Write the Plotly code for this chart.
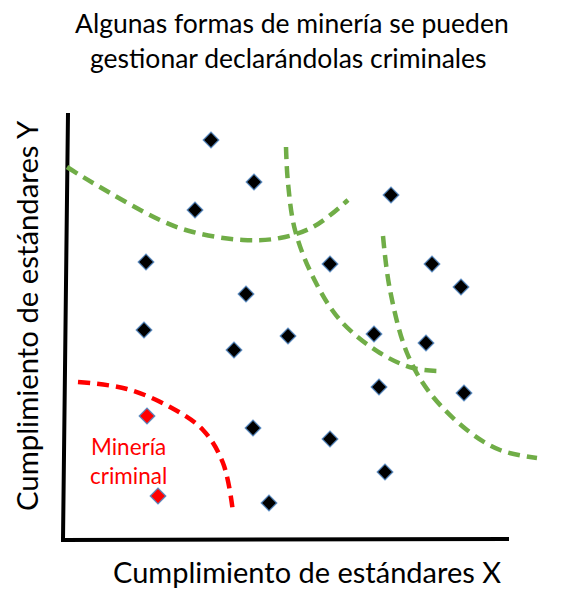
import plotly.graph_objects as go

# puntos (unidades arbitrarias de cumplimiento)
otros_x = [29.6, 38.2, 26.4, 65.6, 16.6, 53.4, 73.8, 79.6, 36.6, 16.2,
           45.0, 62.2, 72.6, 34.2, 63.2, 80.2, 38.0, 53.4, 64.4, 41.2]
otros_y = [79.8, 71.4, 65.8, 68.8, 55.4, 55.0, 55.0, 50.4, 49.0, 41.8,
           40.6, 41.0, 39.2, 37.8, 30.4, 29.2, 22.2, 20.0, 13.4, 7.2]
criminal_x = [16.8, 19.0]
criminal_y = [24.6, 8.6]

# fronteras dibujadas a mano
curva_a_x = [0.8, 6.0, 19.4, 26.0, 36.0, 43.4, 50.0, 57.0]
curva_a_y = [74.4, 71.2, 63.8, 61.4, 59.8, 60.2, 62.4, 67.8]
curva_b_x = [44.6, 45.0, 46.4, 50.0, 55.4, 63.4, 70.0, 75.2]
curva_b_y = [78.4, 71.2, 61.8, 52.4, 43.8, 37.2, 34.2, 33.6]
curva_c_x = [64.0, 65.4, 68.8, 73.4, 80.8, 87.4, 94.8]
curva_c_y = [60.6, 49.8, 37.2, 29.2, 21.8, 17.8, 16.2]
curva_roja_x = [3.0, 12.8, 21.4, 28.0, 32.0, 34.0]
curva_roja_y = [31.4, 30.0, 26.4, 21.8, 15.2, 5.4]

eje_x = [1.0, 0.0, 89.2]
eje_y = [85.2, -0.2, 0.0]

W, H, OFF = 556, 582, 8  # la página deja 8px de margen


def px(x, y):
    return (x - OFF) / W, 1 - (y - OFF) / H


verde = "#70AD47"
fig = go.Figure()

fig.add_trace(go.Scatter(x=eje_x, y=eje_y, mode="lines",
                         line=dict(color="black", width=4)))
for cx, cy in [(curva_a_x, curva_a_y), (curva_b_x, curva_b_y), (curva_c_x, curva_c_y)]:
    fig.add_trace(go.Scatter(x=cx, y=cy, mode="lines",
                             line=dict(color=verde, width=4.5, dash="12px,7px", shape="spline")))
fig.add_trace(go.Scatter(x=curva_roja_x, y=curva_roja_y, mode="lines",
                         line=dict(color="#FF0000", width=4.5, dash="12px,7px", shape="spline")))

fig.add_trace(go.Scatter(x=otros_x, y=otros_y, mode="markers",
                         marker=dict(symbol="diamond", size=12, color="black",
                                     line=dict(color="#5B8BC0", width=1.2))))
fig.add_trace(go.Scatter(x=criminal_x, y=criminal_y, mode="markers",
                         marker=dict(symbol="diamond", size=12, color="#FF0000",
                                     line=dict(color="#5B8BC0", width=1.2))))

fuente = "Lato"
textos = [
    ("Algunas formas de minería se pueden", 292, 23, 26.5, "black", 0),
    ("gestionar declarándolas criminales", 288, 58, 26.5, "black", 0),
    ("Cumplimiento de estándares X", 307, 571, 29.0, "black", 0),
    ("Cumplimiento de estándares Y", 26, 316, 29.3, "black", -90),
    ("Minería<br>criminal", 128, 461, 22.5, "#FF0000", 0),
]
for t, tx, ty, sz, col, ang in textos:
    ax, ay = px(tx, ty)
    fig.add_annotation(x=ax, y=ay, xref="paper", yref="paper", text=t,
                       showarrow=False, xanchor="center", yanchor="middle",
                       borderpad=0, textangle=ang,
                       font=dict(family=fuente, size=sz, color=col))

fig.update_layout(
    width=W, height=H,
    margin=dict(l=0, r=0, t=0, b=0),
    paper_bgcolor="white", plot_bgcolor="white",
    showlegend=False,
    xaxis=dict(range=[-11.0, 100.2], visible=False, fixedrange=True),
    yaxis=dict(range=[-10.2, 106.2], visible=False, fixedrange=True),
)

fig.write_html("out.html")
